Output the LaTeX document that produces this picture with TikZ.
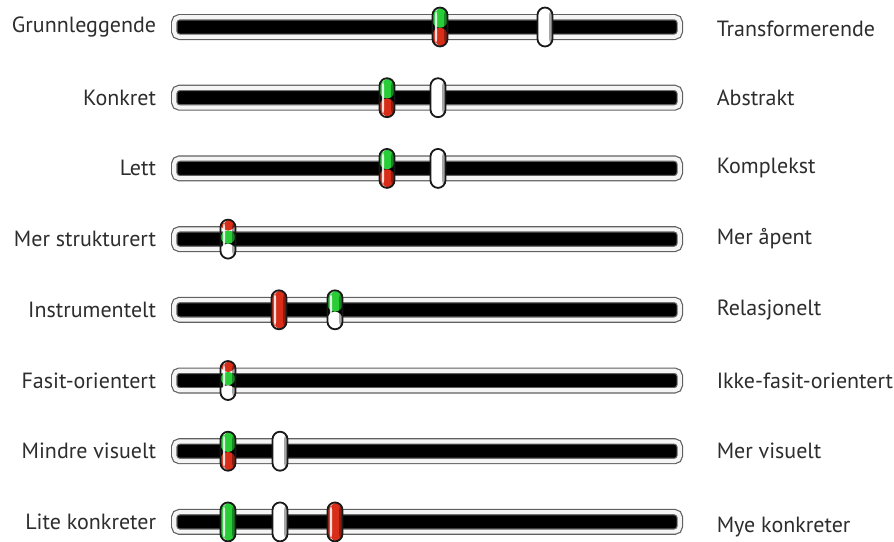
\documentclass[tikz,border=0pt]{standalone}
\usepackage{fontspec}
\setmainfont{PT Sans}
\usetikzlibrary{positioning, calc}
\definecolor{kgreen}{RGB}{40, 205, 55}
\definecolor{kred}{RGB}{215, 45, 25}
\definecolor{labelgray}{RGB}{45, 45, 45}
\tikzset{
    track/.style={rectangle, rounded corners=2.5pt, draw=gray!75!black, line width=0.6pt, double=gray!8, double distance=2.05pt, fill=black, minimum width=252.75pt, minimum height=9.75pt, inner sep=0pt},
    leftlab/.style={text=labelgray, font=\fontsize{11}{13}\selectfont, inner sep=0pt, left=8.6pt of #1},
    rightlab/.style={text=labelgray, font=\fontsize{11}{13}\selectfont, inner sep=0pt, right=18pt of #1},
    knob/.style={rectangle, rounded corners=3.8pt, minimum width=7.5pt, minimum height=19.5pt, inner sep=0pt, draw=black!90, line width=0.9pt},
    knobfill/.style n args={5}{knob, path picture={
        \coordinate (kNW) at (path picture bounding box.north west);
        \coordinate (kSE) at (path picture bounding box.south east);
        \fill[#1] (kNW) rectangle ($(kNW-|kSE)!#2!(kSE)$);
        \fill[#3] ($(kNW)!#2!(kNW|-kSE)$) rectangle ($(kNW-|kSE)!#4!(kSE)$);
        \fill[#5] ($(kNW)!#4!(kNW|-kSE)$) rectangle (kSE);
        \fill[white, opacity=0.85] ($(kNW)+(1.2pt,0)$) rectangle ($(kNW|-kSE)+(2.3pt,0)$);
        \fill[black, opacity=0.35] ($(kNW-|kSE)+(-1.7pt,0)$) rectangle (kSE);
    }},
    gr/.style={knobfill={kgreen}{0.52}{kred}{1}{kred}},
    wh/.style={knobfill={white}{1}{white}{1}{white}},
    rd/.style={knobfill={kred}{1}{kred}{1}{kred}},
    gn/.style={knobfill={kgreen}{1}{kgreen}{1}{kgreen}},
    gw/.style={knobfill={kgreen}{0.55}{white}{1}{white}},
    rgw/.style={knobfill={kred}{0.28}{kgreen}{0.62}{white}}
}
\begin{document}
\begin{tikzpicture}[x=0.5pt, y=-0.5pt]
    \useasboundingbox[fill=white] (0,0) rectangle (894,541);

    % tracks
    \node[track] (t1) at (427,27) {};
    \node[track] (t2) at (427,97.7) {};
    \node[track] (t3) at (427,168.4) {};
    \node[track] (t4) at (427,239.1) {};
    \node[track] (t5) at (427,309.8) {};
    \node[track] (t6) at (427,380.5) {};
    \node[track] (t7) at (427,451.2) {};
    \node[track] (t8) at (427,521.9) {};

    % left ends
    \node[leftlab=t1] (l1) {Grunnleggende};
    \node[leftlab=t2] (l2) {Konkret};
    \node[leftlab=t3] (l3) {Lett};
    \node[leftlab=t4] (l4) {Mer strukturert};
    \node[leftlab=t5] (l5) {Instrumentelt};
    \node[leftlab=t6] (l6) {Fasit-orientert};
    \node[leftlab=t7] (l7) {Mindre visuelt};
    \node[leftlab=t8] (l8) {Lite konkreter};

    % right ends
    \node[rightlab=t1, yshift=-1pt] (r1) {Transformerende};
    \node[rightlab=t2] (r2) {Abstrakt};
    \node[rightlab=t3] (r3) {Komplekst};
    \node[rightlab=t4] (r4) {Mer åpent};
    \node[rightlab=t5] (r5) {Relasjonelt};
    \node[rightlab=t6] (r6) {Ikke-fasit-orientert};
    \node[rightlab=t7] (r7) {Mer visuelt};
    \node[rightlab=t8, yshift=-2.5pt] (r8) {Mye konkreter};

    % knobs
    \node[gr] (k1a) at (440,27) {};
    \node[wh] (k1b) at (545,27) {};
    \node[gr] (k2a) at (387,97.7) {};
    \node[wh] (k2b) at (438,97.7) {};
    \node[gr] (k3a) at (387,168.4) {};
    \node[wh] (k3b) at (438,168.4) {};
    \node[rgw] (k4a) at (228,239.1) {};
    \node[rd] (k5a) at (279,309.8) {};
    \node[gw] (k5b) at (335,309.8) {};
    \node[rgw] (k6a) at (228,380.5) {};
    \node[gr] (k7a) at (228,451.2) {};
    \node[wh] (k7b) at (280,451.2) {};
    \node[gn] (k8a) at (228,521.9) {};
    \node[wh] (k8b) at (280,521.9) {};
    \node[rd] (k8c) at (335,521.9) {};
\end{tikzpicture}
\end{document}
